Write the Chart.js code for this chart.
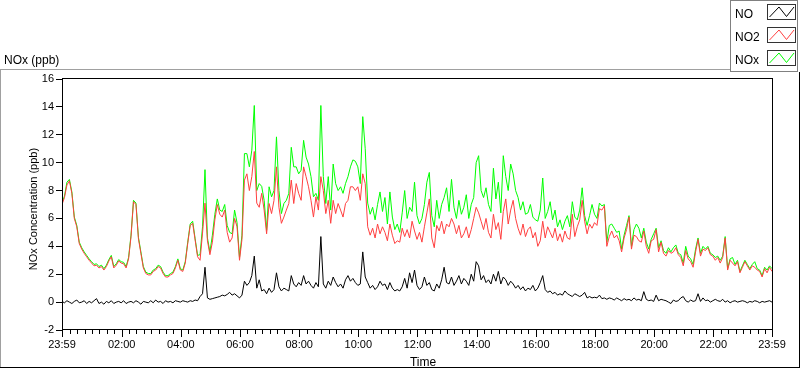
<!DOCTYPE html>
<html lang="en">
<head>
  <meta charset="utf-8">
  <title>NOx (ppb)</title>
  <style>
    * { box-sizing: border-box; margin: 0; padding: 0; }
    html, body { background: #ffffff; }
    #chart { display: block; }
  </style>
  <script src="https://cdn.jsdelivr.net/npm/chart.js"></script>
</head>
<body>
  <canvas id="chart" width="800" height="369"></canvas>
  <script>
    // samples every 5 minutes, starting 23:59 of the previous day
    const STEP_MIN = 5;
    const tickMinutes = [0, 121, 241, 361, 481, 601, 721, 841, 961, 1081, 1201, 1321, 1440];
    const tickLabels = ['23:59', '02:00', '04:00', '06:00', '08:00', '10:00', '12:00', '14:00', '16:00', '18:00', '20:00', '22:00', '23:59'];

    const no2 = [
      7.0, 7.5, 8.4, 8.7, 7.8, 6.0, 5.4, 4.2, 3.8, 3.5, 3.25, 3.0,
      2.8, 2.6, 2.65, 2.45, 2.55, 2.3, 2.55, 2.95, 3.25, 2.45, 2.65, 2.95,
      2.8, 2.75, 2.45, 3.1, 4.7, 7.2, 7.0, 4.55, 3.5, 2.45, 2.05, 1.95,
      1.95, 2.2, 2.3, 2.55, 2.45, 2.05, 1.8, 1.8, 1.95, 2.05, 2.45, 3.0,
      2.3, 2.2, 2.8, 4.2, 5.5, 5.65, 4.45, 3.25, 3.0, 4.95, 7.1, 4.4,
      3.4, 4.3, 5.9, 7.0, 6.3, 6.1, 6.6, 5.0, 4.3, 4.6, 6.0, 5.4,
      3.0, 4.5, 8.75, 9.2, 8.0, 9.0, 10.8, 7.1, 6.8, 7.8, 6.6, 4.9,
      7.07, 6.35, 7.3, 9.7, 6.8, 5.65, 6.1, 6.6, 7.07, 8.75, 7.07, 8.5,
      7.8, 7.3, 9.7, 9.0, 8.27, 7.3, 6.1, 7.55, 6.6, 9.0, 8.0, 6.35,
      7.3, 5.65, 7.3, 6.35, 7.07, 6.6, 6.1, 7.07, 7.3, 8.27, 8.27, 8.0,
      8.27, 7.3, 9.2, 8.5, 5.4, 4.8, 5.3, 4.6, 5.6, 4.9, 5.4, 5.0,
      4.4, 5.6, 4.8, 4.2, 4.4, 4.3, 5.3, 4.7, 5.2, 4.6, 5.8, 5.1,
      4.5, 5.0, 4.3, 5.4, 6.4, 7.4, 4.6, 3.9, 5.5, 5.1, 5.8, 4.9,
      5.6, 5.4, 6.0, 5.6, 4.9, 5.5, 4.6, 4.9, 5.4, 4.6, 5.2, 6.0,
      6.8, 6.4, 5.8, 5.2, 6.0, 5.0, 4.6, 6.3, 5.2, 5.7, 4.5, 6.5,
      7.4, 5.6, 6.6, 7.3, 6.0, 5.3, 4.8, 5.6, 4.7, 5.2, 5.4, 4.6,
      5.0, 4.0, 4.4, 5.8, 4.6, 5.4, 5.0, 4.6, 5.3, 4.4, 4.9, 4.3,
      5.1, 4.6, 4.5, 6.3, 4.7, 5.4, 5.9, 7.3, 5.8, 4.9, 5.6, 5.3,
      5.7, 5.5, 6.7, 6.6, 6.9, 4.0, 4.7, 5.1, 4.6, 4.8, 4.4, 3.6,
      4.6, 5.2, 6.1, 3.8, 4.8, 4.7, 4.4, 4.3, 5.1, 4.0, 3.5, 4.4,
      4.5, 5.2, 3.6, 4.3, 3.5, 3.3, 3.7, 3.5, 3.6, 3.9, 3.4, 3.2,
      2.6, 3.7, 3.1, 2.9, 2.5, 3.6, 4.5, 3.3, 3.8, 3.7, 3.9, 3.4,
      3.3, 3.0, 3.2, 2.8, 3.2, 4.6, 2.3, 3.0, 2.8, 2.6, 2.9, 2.1,
      2.5, 2.9, 2.6, 2.3, 2.6, 2.5, 2.3, 2.2, 1.8, 2.4, 2.1, 2.5,
      2.2
    ];

    const nox = [
      7.1, 7.6, 8.6, 8.8, 7.9, 6.1, 5.5, 4.3, 3.9, 3.6, 3.35, 3.1,
      2.9, 2.7, 2.75, 2.55, 2.65, 2.4, 2.65, 3.05, 3.35, 2.55, 2.75, 3.05,
      2.9, 2.85, 2.55, 3.2, 4.8, 7.3, 7.1, 4.65, 3.6, 2.55, 2.15, 2.05,
      2.05, 2.3, 2.4, 2.65, 2.55, 2.15, 1.9, 1.9, 2.05, 2.15, 2.55, 3.1,
      2.4, 2.3, 2.9, 4.3, 5.6, 5.8, 4.55, 3.35, 3.4, 5.4, 9.5, 4.6,
      3.6, 4.8, 6.3, 7.4, 6.6, 6.5, 7.0, 5.5, 5.0, 4.9, 6.6, 5.7,
      3.2, 4.8, 10.65, 10.65, 9.7, 10.9, 14.1, 8.0, 8.5, 8.3, 7.3, 5.15,
      8.27, 7.55, 8.0, 11.85, 8.0, 6.35, 7.07, 7.3, 7.8, 11.1, 9.7, 9.7,
      9.2, 9.46, 11.6, 10.4, 9.9, 9.0, 7.55, 7.8, 7.3, 14.1, 9.0, 7.07,
      9.0, 6.6, 9.9, 8.5, 8.0, 8.27, 7.8, 8.5, 9.0, 9.7, 10.2, 10.1,
      9.7, 8.5, 13.3, 11.0, 7.1, 6.3, 6.8, 5.9, 7.0, 7.9, 6.5, 7.5,
      5.6, 7.9, 6.1, 5.2, 5.6, 5.0, 6.4, 8.0, 6.0, 6.8, 6.5, 8.6,
      6.2, 5.6, 6.0, 7.0, 8.6, 9.3, 6.2, 5.4, 7.3, 6.0, 7.0, 7.5,
      8.2, 6.5, 8.8, 6.8, 6.0, 7.3, 6.3, 6.8, 7.7, 6.0, 7.0, 7.5,
      10.0, 10.5, 8.0, 7.5, 8.2, 7.0, 6.5, 9.6, 7.4, 8.6, 6.4, 10.5,
      9.0, 8.0, 9.9, 9.2, 8.0, 7.5, 6.6, 7.2, 6.3, 6.4, 7.0, 6.1,
      5.9, 5.8, 6.6, 8.9, 6.0, 6.5, 7.2, 5.9, 6.6, 5.4, 5.9, 5.2,
      5.8, 6.2, 5.4, 7.2, 6.1, 5.9, 6.6, 8.2, 6.2, 5.5, 6.2, 7.0,
      6.3, 6.0, 7.1, 6.9, 7.0, 4.3, 5.5, 5.6, 5.3, 5.0, 5.1, 3.8,
      4.8, 5.5, 6.2, 4.0, 5.2, 5.6, 5.3, 4.6, 5.3, 4.3, 3.8, 4.5,
      4.9, 5.3, 3.9, 4.4, 3.7, 3.5, 3.9, 3.6, 3.9, 4.1, 3.5, 3.4,
      2.8, 4.0, 3.3, 3.1, 2.7, 3.8, 4.6, 3.5, 4.0, 3.8, 4.0, 3.5,
      3.4, 3.2, 3.3, 3.0, 3.3, 4.7, 2.4, 3.1, 3.2, 2.7, 3.0, 2.2,
      2.6, 3.0, 2.7, 2.4, 2.7, 2.9, 2.4, 2.3, 1.9, 2.5, 2.3, 2.6,
      2.4
    ];

    const no = [
      0.05, -0.05, 0.1, 0.0, -0.1, 0.05, 0.15, -0.05, 0.0, 0.1, -0.1, 0.05,
      -0.05, 0.1, 0.25, -0.1, 0.0, -0.15, 0.05, -0.05, 0.1, -0.1, 0.0, 0.05,
      -0.05, 0.1, -0.1, 0.0, 0.05, -0.05, 0.1, 0.0, -0.15, 0.05, 0.0, -0.05,
      0.1, -0.05, 0.15, 0.0, 0.05, -0.1, 0.1, 0.0, 0.05, -0.05, 0.1, 0.05,
      0.0, 0.1, 0.05, 0.0, 0.1, 0.05, 0.15, 0.1, 0.4, 0.6, 2.5, 0.3,
      0.2, 0.25, 0.3, 0.35, 0.4, 0.5, 0.45, 0.55, 0.7, 0.5, 0.6, 0.45,
      0.3, 0.5, 1.5, 1.2, 1.4, 1.9, 3.3, 1.0, 1.6, 0.8, 0.9, 0.6,
      1.0, 0.7, 0.9, 2.1, 1.1, 0.8, 1.0, 0.9, 0.8, 1.9, 1.3, 1.1,
      1.4, 1.2, 1.9, 1.3, 1.5, 1.2, 1.0, 1.4, 1.1, 4.7, 1.3, 1.0,
      1.5, 1.2, 1.8, 1.4, 1.1, 1.3, 1.0, 1.6, 1.9, 1.5, 1.7, 1.4,
      1.2, 1.3, 3.6, 1.8, 1.4, 1.0, 1.2, 0.9, 1.1, 1.5, 1.2, 1.3,
      0.9, 1.4, 1.0, 0.8, 0.9, 0.8, 1.1, 1.7, 1.0, 2.1, 1.4, 2.3,
      1.2, 0.9, 1.1, 1.8, 1.2, 1.4, 0.9, 0.8, 1.3, 1.0, 1.6, 2.5,
      1.4, 1.3, 1.8, 1.2, 1.5, 1.9, 1.3, 1.7, 1.5, 1.2, 2.0, 1.5,
      2.9, 2.6, 1.6, 1.9, 1.4, 1.6, 1.3, 2.0, 1.5, 2.2, 1.3, 1.8,
      1.6, 1.2, 1.5, 1.3, 1.0, 1.2, 0.9, 1.1, 0.8, 1.0, 0.9, 1.2,
      0.8, 1.0, 1.4, 1.9, 0.9, 0.7, 0.8, 0.6, 0.7, 0.5, 0.6, 0.5,
      0.8, 0.6, 0.5, 0.4, 0.6, 0.5, 0.4, 0.5, 0.7, 0.3, 0.4, 0.3,
      0.35, 0.3, 0.5, 0.25, 0.3, 0.2, 0.3, 0.25, 0.15, 0.3, 0.2, 0.1,
      0.25, 0.15, 0.2, 0.1, 0.3, 0.15, 0.2, 0.1, 0.75, 0.2, 0.1, 0.15,
      0.05, 0.5, 0.1, 0.2, 0.15, 0.1, 0.0, -0.1, 0.15, 0.05, 0.1, 0.3,
      0.4, 0.1, 0.0, 0.15, 0.05, 0.1, 0.6, 0.05, 0.3, 0.1, 0.15, 0.0,
      0.1, 0.2, 0.1, 0.05, 0.2, 0.0, 0.1, -0.05, 0.05, 0.1, 0.0, 0.05,
      0.1, 0.05, -0.05, 0.05, 0.0, 0.1, 0.05, -0.05, 0.05, 0.0, 0.05, 0.1,
      0.0
    ];

    const seriesNames = ['NO', 'NO2', 'NOx'];
    const seriesColors = ['#000000', '#ff4040', '#00ff00'];

    const minutes = no2.map((_, i) => i * STEP_MIN);
    const pts = arr => arr.map((v, i) => ({ x: minutes[i], y: v }));

    const FONT = '"Liberation Sans", Arial, sans-serif';

    // frame, captions, legend and x tick marks in LabVIEW style
    const decor = {
      id: 'decor',
      beforeDraw(chart) {
        const { ctx, width, height } = chart;
        ctx.save();
        ctx.fillStyle = '#fff';
        ctx.fillRect(0, 0, width, height);
        ctx.restore();
      },
      afterDraw(chart) {
        const { ctx, chartArea: a, scales: { x } } = chart;
        ctx.save();
        ctx.lineWidth = 1;

        // outer frame
        ctx.strokeStyle = '#a0a0a0';
        ctx.beginPath();
        ctx.moveTo(0, 69.5); ctx.lineTo(730, 69.5);
        ctx.moveTo(0.5, 69.5); ctx.lineTo(0.5, 368);
        ctx.stroke();
        ctx.strokeStyle = '#000';
        ctx.beginPath();
        ctx.moveTo(0, 367.5); ctx.lineTo(800, 367.5);
        ctx.moveTo(799.5, 72); ctx.lineTo(799.5, 368);
        ctx.stroke();

        // plot border
        ctx.strokeStyle = '#000';
        ctx.strokeRect(a.left + 0.5, a.top - 0.5, a.right - a.left, a.bottom - a.top);

        // x tick marks: major every 2 h, minor every 15 min
        ctx.beginPath();
        tickMinutes.forEach(m => {
          const px = Math.round(x.getPixelForValue(m)) + 0.5;
          ctx.moveTo(px, a.bottom); ctx.lineTo(px, a.bottom + 7);
        });
        for (let m = 16; m < 1440; m += 15) {
          if ((m - 1) % 120 === 0) continue;
          const px = Math.round(x.getPixelForValue(m)) + 0.5;
          ctx.moveTo(px, a.bottom); ctx.lineTo(px, a.bottom + 4);
        }
        ctx.stroke();

        // captions
        ctx.fillStyle = '#000';
        ctx.font = '12px ' + FONT;
        ctx.textAlign = 'left';
        ctx.textBaseline = 'alphabetic';
        ctx.fillText('NOx (ppb)', 4, 63.5);
        ctx.textAlign = 'center';
        ctx.fillText('Time', 423, 365.5);
        ctx.save();
        ctx.translate(36.5, 209);
        ctx.rotate(-Math.PI / 2);
        ctx.font = '11px ' + FONT;
        ctx.fillText('NOx Concentration (ppb)', 0, 0);
        ctx.restore();

        // legend
        ctx.strokeStyle = '#808080';
        ctx.strokeRect(730.5, 0.5, 67, 71);
        ctx.font = '12px ' + FONT;
        ctx.textAlign = 'left';
        seriesNames.forEach((name, i) => {
          const y0 = 4 + i * 23;
          ctx.fillStyle = '#000';
          ctx.fillText(name, 735, y0 + 13.5);
          ctx.strokeStyle = '#333';
          ctx.strokeRect(767.5, y0 + 0.5, 28, 15);
          ctx.strokeStyle = seriesColors[i];
          ctx.beginPath();
          ctx.moveTo(769.5, y0 + 13);
          ctx.lineTo(779, y0 + 3);
          ctx.lineTo(786.5, y0 + 12.5);
          ctx.lineTo(794, y0 + 3);
          ctx.stroke();
        });
        ctx.restore();
      }
    };

    new Chart(document.getElementById('chart'), {
      type: 'line',
      data: {
        datasets: [
          { label: 'NO', data: pts(no), borderColor: seriesColors[0], order: 0 },
          { label: 'NO2', data: pts(no2), borderColor: seriesColors[1], order: 1 },
          { label: 'NOx', data: pts(nox), borderColor: seriesColors[2], order: 2 }
        ]
      },
      options: {
        responsive: false,
        devicePixelRatio: 1,
        animation: false,
        layout: { padding: { top: 79, right: 28, bottom: 0, left: 0 } },
        elements: {
          line: { borderWidth: 1, tension: 0 },
          point: { radius: 0 }
        },
        plugins: { legend: { display: false }, tooltip: { enabled: false } },
        scales: {
          x: {
            type: 'linear',
            min: 0,
            max: 1440,
            afterBuildTicks: s => { s.ticks = tickMinutes.map(v => ({ value: v })); },
            afterFit: s => { s.height = 39; },
            grid: { display: false, drawTicks: false },
            border: { display: false },
            ticks: {
              autoSkip: false,
              maxRotation: 0,
              padding: 8,
              color: '#000',
              font: { family: FONT, size: 11 },
              callback: (v, i) => tickLabels[i]
            }
          },
          y: {
            min: -2,
            max: 16,
            afterFit: s => { s.width = 62; },
            grid: { drawOnChartArea: false, tickLength: 6, color: '#000' },
            border: { display: false },
            ticks: {
              stepSize: 2,
              padding: 2,
              color: '#000',
              font: { family: FONT, size: 11 }
            }
          }
        }
      },
      plugins: [decor]
    });
  </script>
</body>
</html>
